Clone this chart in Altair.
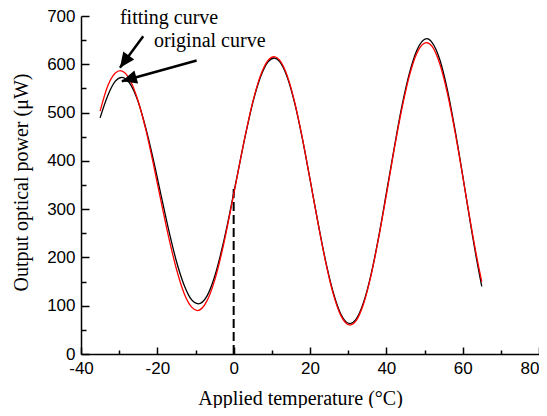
import altair as alt
import pandas as pd

# ---- data ----
x_black = [-35, -33, -31, -29.3, -27, -25, -23, -21, -19, -17, -15, -13, -11, -9.3,
           -7, -5, -3, -1, 0, 1, 3, 5, 7, 9, 10.6, 12, 14, 16, 18, 20, 22, 24, 26, 28,
           30.5, 32, 34, 36, 38, 40, 42, 44, 46, 48, 50.6, 52, 54, 56, 58, 60, 62, 64, 65]
y_black = [489, 535, 565, 573, 558, 522, 467, 401, 328, 256, 192, 143, 112, 104,
           120, 160, 220, 293, 333, 372, 450, 520, 573, 605, 613, 606, 574, 519, 446, 362, 276, 196, 130, 84,
           63, 71, 106, 165, 243, 333, 424, 510, 580, 629, 653, 645, 610, 547, 464, 370, 272, 181, 140]

x_red = [-35, -33, -31, -29.7, -27, -25, -23, -21, -19, -17, -15, -13, -11, -9.5,
         -7, -5, -3, -1, 0, 1, 3, 5, 7, 9, 10.6, 12, 14, 16, 18, 20, 22, 24, 26, 28,
         30.5, 32, 34, 36, 38, 40, 42, 44, 46, 48, 50.5, 52, 54, 56, 58, 60, 62, 64, 65]
y_red = [503, 555, 582, 587, 565, 523, 464, 392, 315, 241, 176, 126, 97, 90,
         110, 152, 214, 290, 330, 371, 451, 522, 576, 608, 616, 609, 577, 521, 447, 362, 275, 194, 127, 81,
         60, 68, 103, 163, 241, 329, 421, 505, 575, 623, 645, 637, 601, 540, 460, 369, 275, 188, 150]

dash_x = [0]
dash_y0 = [0]
dash_y1 = [345]

label_text = ["fitting curve", "original curve"]
label_x = [-29.8, -20.9]
label_y = [684, 635]

arrow_tail_x = [-23.7, -9.7]
arrow_tail_y = [658, 608]
arrow_tip_x = [-29.8, -29.3]
arrow_tip_y = [593, 565]
arrow_angle = [216, 254]

x_ticks = [-40, -30, -20, -10, 0, 10, 20, 30, 40, 50, 60, 70, 80]
y_ticks = [0, 50, 100, 150, 200, 250, 300, 350, 400, 450, 500, 550, 600, 650, 700]

# ---- tables ----
df_black = pd.DataFrame({"x": x_black, "y": y_black})
df_red = pd.DataFrame({"x": x_red, "y": y_red})
df_dash = pd.DataFrame({"x": dash_x, "y": dash_y0, "y2": dash_y1})
df_lab = pd.DataFrame({"x": label_x, "y": label_y, "t": label_text})
df_arr = pd.DataFrame({"x": arrow_tail_x, "y": arrow_tail_y, "x2": arrow_tip_x,
                       "y2": arrow_tip_y, "a": arrow_angle})

xscale = alt.Scale(domain=[-40, 80], nice=False, zero=False)
yscale = alt.Scale(domain=[0, 700], nice=False, zero=False)

common_axis = dict(
    labelFont="Liberation Sans", labelFontSize=17, labelColor="black",
    labelFlush=False, labelOverlap=False,
    titleFont="Liberation Serif", titleFontSize=20, titleFontWeight="normal",
    titleColor="black", domainColor="black", domainWidth=1.5,
    tickColor="black", tickWidth=1.5, grid=False,
)

xaxis = alt.Axis(
    values=x_ticks,
    title="Applied temperature (°C)",
    labelExpr="datum.value % 20 === 0 ? '' + datum.value : ''",
    tickSize={"condition": {"test": "datum.value % 20 === 0", "value": -7}, "value": -4},
    labelPadding=13,
    labelAlign={"condition": {"test": "datum.value === 80", "value": "right"}, "value": "center"},
    titleX=219, titleY=50, titleBaseline="alphabetic", titleAlign="center",
    **common_axis,
)
yaxis = alt.Axis(
    values=y_ticks,
    title="Output optical power (μW)",
    labelExpr="datum.value % 100 === 0 ? '' + datum.value : ''",
    tickSize={"condition": {"test": "datum.value % 100 === 0", "value": -8}, "value": -5},
    labelPadding=14,
    titleX=-60, titleY=166, titleBaseline="middle", titleAlign="center", titleAngle=270,
    **common_axis,
)

X = alt.X("x:Q", scale=xscale, axis=xaxis)
Y = alt.Y("y:Q", scale=yscale, axis=yaxis)

dash = alt.Chart(df_dash).mark_rule(color="black", strokeWidth=2, strokeDash=[9, 4]).encode(
    x=X, y=Y, y2="y2:Q")

black = alt.Chart(df_black).mark_line(color="black", strokeWidth=1.3, interpolate="monotone").encode(
    x=X, y=Y)
red = alt.Chart(df_red).mark_line(color="red", strokeWidth=1.3, interpolate="monotone").encode(
    x=X, y=Y)

shaft = alt.Chart(df_arr).mark_rule(color="black", strokeWidth=2.5).encode(
    x=X, y=Y, x2="x2:Q", y2="y2:Q")
head = alt.Chart(df_arr).mark_point(
    shape="M0,0L-0.45,1L0.45,1Z", filled=True, color="black", opacity=1, size=900, strokeWidth=0
).encode(
    x=alt.X("x2:Q", scale=xscale, axis=xaxis),
    y=alt.Y("y2:Q", scale=yscale, axis=yaxis),
    angle=alt.Angle("a:Q", scale=None),
)

labels = alt.Chart(df_lab).mark_text(
    align="left", baseline="alphabetic", font="Liberation Serif", fontSize=20, color="black"
).encode(x=X, y=Y, text="t:N")

chart = alt.layer(dash, black, red, shaft, head, labels).properties(
    width=458, height=338,
    autosize=alt.AutoSizeParams(type="none"),
    padding={"left": 73, "top": 8, "right": 0, "bottom": 54},
    background="white",
).configure_view(stroke=None)

chart.save("out.html", embed_options={"renderer": "svg", "actions": False})
